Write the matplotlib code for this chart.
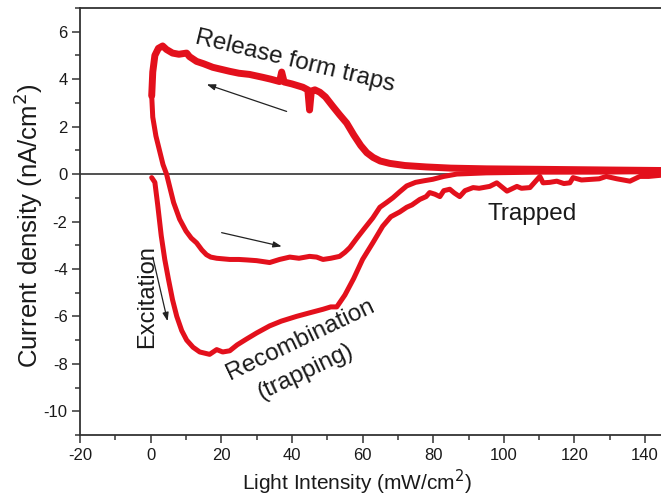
import matplotlib
matplotlib.use("Agg")
import matplotlib.pyplot as plt
from matplotlib.ticker import MultipleLocator

plt.rcParams['font.family'] = ['Liberation Sans', 'DejaVu Sans']
plt.rcParams['axes.unicode_minus'] = False

# Outer loop: excitation -> recombination (trapping) -> trapped
outer_x = [0.3, 1.2, 2.0, 3.0, 4.0, 5.0, 6.2, 7.4, 8.8, 10.2, 12.0, 13.9, 16.7, 18.7, 20.4,
           22.4, 24.5, 27.2, 30.0, 33.7, 37.0, 41.3, 45.0, 48.8, 51.0, 52.7, 55.0, 57.5, 60.0,
           62.9, 65.7, 68.0, 70.5, 72.5, 74.0, 76.2, 78.0, 79.0, 80.5, 81.9, 83.0, 84.7, 86.0,
           87.5, 89.0, 91.3, 93.0, 96.0, 98.0, 100.9, 103.7, 105.0, 107.4, 110.2, 111.1, 113.0,
           115.0, 117.0, 118.7, 119.6, 122.0, 125.0, 127.0, 129.0, 132.0, 135.7, 138.5, 141.0, 144.5]
outer_y = [-0.15, -0.35, -1.3, -2.6, -3.6, -4.4, -5.3, -6.0, -6.6, -7.0, -7.3, -7.5, -7.6, -7.4, -7.5,
           -7.45, -7.2, -6.95, -6.7, -6.4, -6.2, -6.0, -5.85, -5.7, -5.6, -5.6, -5.1, -4.4, -3.6,
           -2.9, -2.2, -1.8, -1.6, -1.4, -1.3, -1.07, -0.95, -0.78, -0.85, -0.95, -0.7, -0.64, -0.8,
           -0.95, -0.7, -0.57, -0.6, -0.52, -0.37, -0.72, -0.52, -0.6, -0.57, -0.1, -0.37, -0.35,
           -0.3, -0.4, -0.37, -0.15, -0.25, -0.22, -0.2, -0.1, -0.2, -0.3, -0.1, -0.1, -0.05]

# Inner loop, part 1: release from traps (decreasing intensity)
release_x = [144.5, 130, 110, 95, 85, 78, 72, 67.7, 65, 63, 61.2, 59.5, 57.5, 55.5, 53.5, 51.6,
             49.5, 47.9, 46.5, 45.5, 45.0, 44.5, 43.1, 40, 37.8, 37.1, 36.5, 34, 31.7, 28, 25,
             22.4, 19, 17.6, 15, 13, 11, 10.2, 8, 6.2, 4.5, 3.4, 2.2, 1.2, 0.6, 0.3]
release_y = [0.15, 0.17, 0.2, 0.22, 0.25, 0.3, 0.36, 0.45, 0.55, 0.7, 0.9, 1.2, 1.65, 2.15, 2.5, 2.85,
             3.25, 3.45, 3.55, 3.5, 2.7, 3.55, 3.66, 3.8, 3.88, 4.3, 3.9, 4.0, 4.08, 4.2, 4.25,
             4.33, 4.45, 4.5, 4.65, 4.75, 4.95, 5.1, 5.05, 5.1, 5.25, 5.4, 5.3, 5.0, 4.3, 3.3]

# Inner loop, part 2: return (increasing intensity)
return_x = [0.3, 0.6, 1.5, 2.5, 3.5, 4.5, 5.5, 6.5, 8.2, 10, 11.5, 13, 14.5, 15.8, 17, 18.7, 22.4,
            25, 27.2, 30, 33.7, 36.5, 39.4, 42, 45, 47, 48.8, 51, 53.5, 55, 56.4, 58.4, 60.5,
            62.9, 64.9, 66.8, 68.6, 70.5, 72.5, 75, 77.5, 79.9, 83, 86.7, 95, 110, 125, 144.5]
return_y = [3.3, 2.4, 1.6, 1.0, 0.4, 0.0, -0.6, -1.2, -1.9, -2.4, -2.7, -2.9, -3.2, -3.4, -3.5, -3.55, -3.6,
            -3.6, -3.62, -3.65, -3.73, -3.6, -3.5, -3.55, -3.47, -3.5, -3.6, -3.55, -3.47, -3.3, -3.1, -2.7, -2.3,
            -1.85, -1.4, -1.2, -1.0, -0.75, -0.5, -0.35, -0.28, -0.22, -0.1, 0.0, 0.05, 0.08, 0.08, 0.1]

zero_line_x = [-20, 87]
zero_line_y = [0, 0]

x_ticks = [-20, 0, 20, 40, 60, 80, 100, 120, 140]
y_ticks = [-10, -8, -6, -4, -2, 0, 2, 4, 6]

RED = '#e3101c'
TXT = '#1a1a1a'

fig = plt.figure(figsize=(6.61, 4.97), dpi=100)
ax = fig.add_axes([80/661, 1 - 435/497, 1 - 80/661, (435 - 8)/497])

ax.plot(zero_line_x, zero_line_y, color='#333333', lw=1.2, zorder=1)
ax.plot(outer_x, outer_y, color=RED, lw=3.6, solid_joinstyle='round', solid_capstyle='round', zorder=3)
ax.plot(release_x, release_y, color=RED, lw=5.0, solid_joinstyle='round', solid_capstyle='round', zorder=3)
ax.plot(return_x, return_y, color=RED, lw=3.6, solid_joinstyle='round', solid_capstyle='round', zorder=3)

ax.set_xlim(-20, 144.5)
ax.set_ylim(-11, 7)
ax.set_xticks(x_ticks)
ax.set_yticks(y_ticks)
ax.xaxis.set_minor_locator(MultipleLocator(10))
ax.yaxis.set_minor_locator(MultipleLocator(1))
ax.tick_params(which='major', direction='out', length=6, width=1.1, color='#333333',
               labelsize=12, labelcolor=TXT, pad=3)
ax.tick_params(which='minor', direction='out', length=3.5, width=1.1, color='#333333')
for s in ['left', 'bottom', 'top']:
    ax.spines[s].set_linewidth(1.3)
    ax.spines[s].set_color('#333333')
ax.spines['right'].set_visible(False)

ax.set_xlabel('Light Intensity (mW/cm$^2$)', fontsize=15, color=TXT)
ax.xaxis.label.set_va('center')
ax.xaxis.set_label_coords((357.5 - 80) / 581, (435 - 482) / 427)
ax.set_ylabel('Current density (nA/cm$^2$)', fontsize=18.5, color=TXT)
ax.yaxis.label.set_va('center')
ax.yaxis.set_label_coords((28 - 80) / 581, 0.49)

arrow_kw = dict(arrowstyle='-|>,head_length=0.5,head_width=0.18', color='#222222', lw=0.9,
                shrinkA=0, shrinkB=0)
ax.annotate('', xy=(15.9, 3.78), xytext=(38.5, 2.64), arrowprops=arrow_kw)
ax.annotate('', xy=(37.1, -3.05), xytext=(20.1, -2.47), arrowprops=arrow_kw)
ax.annotate('', xy=(4.8, -6.2), xytext=(0.6, -3.5), arrowprops=arrow_kw)

ax.text(40.8, 4.75, 'Release form traps', rotation=-13.6, fontsize=17.5, color=TXT,
        ha='center', va='center', rotation_mode='anchor')
ax.text(-1.0, -5.17, 'Excitation', rotation=90, fontsize=17, color=TXT,
        ha='center', va='center', rotation_mode='anchor')
ax.text(42.3, -6.97, 'Recombination', rotation=25.5, fontsize=17.5, color=TXT,
        ha='center', va='center', rotation_mode='anchor')
ax.text(43.9, -8.33, '(trapping)', rotation=25.5, fontsize=17.5, color=TXT,
        ha='center', va='center', rotation_mode='anchor')
ax.text(108, -1.7, 'Trapped', fontsize=17.5, color=TXT, ha='center', va='center')

fig.savefig('out.png', dpi=100)
